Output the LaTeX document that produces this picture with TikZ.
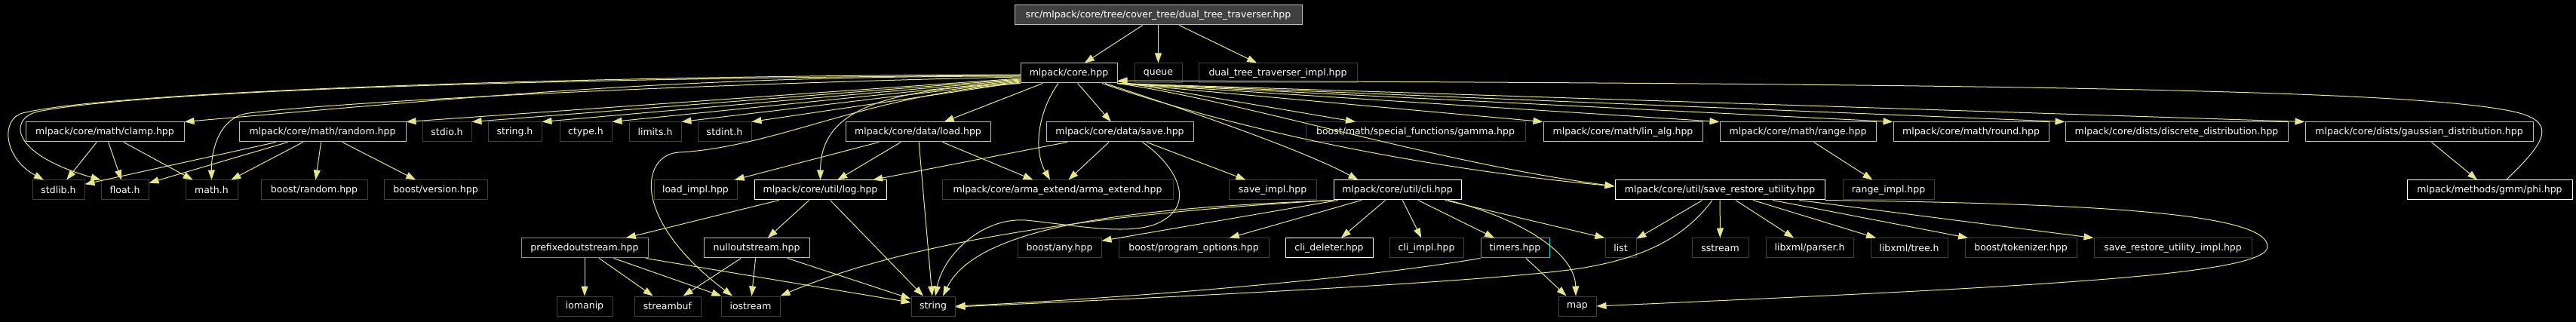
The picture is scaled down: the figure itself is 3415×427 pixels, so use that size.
\documentclass[tikz,border=0pt]{standalone}
\usepackage{fontspec}
\setmainfont{DejaVu Sans}
\usetikzlibrary{arrows.meta}

\definecolor{edgeyellow}{RGB}{230,230,143}
\definecolor{rootgray}{RGB}{64,64,64}
\definecolor{leafgray}{RGB}{64,64,64}
\definecolor{docgray}{RGB}{191,191,191}
\definecolor{cutcyan}{RGB}{0,200,200}

\begin{document}
\begin{tikzpicture}[
    x=1pt, y=-1pt,
    file/.style={rectangle, draw=leafgray, fill=black, text=white, line width=1pt, minimum height=26pt, inner sep=0pt, font=\fontsize{12.5}{15}\selectfont},
    docfile/.style={file, draw=docgray},
    linkfile/.style={file, draw=white},
    cutfile/.style={file, draw=cutcyan},
    rootfile/.style={file, draw=docgray, fill=rootgray},
    incl/.style={draw=edgeyellow, line width=1pt, -{Triangle[length=13pt, width=9pt]}}
]

% Background and frame
\path[use as bounding box, fill=black] (0,0) rectangle (3415,427);

% Root file
\node[rootfile, minimum width=381pt] (root) at (1535.5,20) {src/mlpack/core/tree/cover\_tree/dual\_tree\_traverser.hpp};

% Direct includes
\node[docfile, minimum width=128pt] (core) at (1417,97) {mlpack/core.hpp};
\node[file, minimum width=63pt] (queue) at (1535.5,97) {queue};
\node[file, minimum width=210pt] (dtimpl) at (1694,97) {dual\_tree\_traverser\_impl.hpp};

% Headers of mlpack/core.hpp
\node[docfile, minimum width=210pt] (clamp) at (139,175) {mlpack/core/math/clamp.hpp};
\node[docfile, minimum width=221pt] (random) at (427.5,175) {mlpack/core/math/random.hpp};
\node[file, minimum width=65pt] (stdio) at (592.5,175) {stdio.h};
\node[file, minimum width=71pt] (strh) at (682.5,175) {string.h};
\node[file, minimum width=69pt] (ctype) at (776.5,175) {ctype.h};
\node[file, minimum width=69pt] (limits) at (868.5,175) {limits.h};
\node[file, minimum width=71pt] (stdint) at (960.5,175) {stdint.h};
\node[docfile, minimum width=192pt] (load) at (1217,175) {mlpack/core/data/load.hpp};
\node[docfile, minimum width=195pt] (save) at (1484.5,175) {mlpack/core/data/save.hpp};
\node[file, minimum width=291pt] (gamma) at (1876.5,175) {boost/math/special\_functions/gamma.hpp};
\node[docfile, minimum width=211pt] (linalg) at (2151.5,175) {mlpack/core/math/lin\_alg.hpp};
\node[docfile, minimum width=207pt] (range) at (2383.5,175) {mlpack/core/math/range.hpp};
\node[docfile, minimum width=206pt] (round) at (2613,175) {mlpack/core/math/round.hpp};
\node[docfile, minimum width=295pt] (discrete) at (2885.5,175) {mlpack/core/dists/discrete\_distribution.hpp};
\node[docfile, minimum width=302pt] (gaussian) at (3207,175) {mlpack/core/dists/gaussian\_distribution.hpp};

% Third row
\node[file, minimum width=69pt] (stdlib) at (77.5,252) {stdlib.h};
\node[file, minimum width=63pt] (float) at (165.5,252) {float.h};
\node[file, minimum width=69pt] (math) at (280.5,252) {math.h};
\node[file, minimum width=141pt] (brandom) at (416.5,252) {boost/random.hpp};
\node[file, minimum width=137pt] (bversion) at (577.5,252) {boost/version.hpp};
\node[file, minimum width=110pt] (loadimpl) at (922,252) {load\_impl.hpp};
\node[linkfile, minimum width=175pt] (log) at (1087.5,252) {mlpack/core/util/log.hpp};
\node[file, minimum width=306pt] (arma) at (1402,252) {mlpack/core/arma\_extend/arma\_extend.hpp};
\node[file, minimum width=116pt] (saveimpl) at (1687,252) {save\_impl.hpp};
\node[linkfile, minimum width=169pt] (cli) at (1852.5,252) {mlpack/core/util/cli.hpp};
\node[linkfile, minimum width=278pt] (sru) at (2280,252) {mlpack/core/util/save\_restore\_utility.hpp};
\node[file, minimum width=121pt] (rangeimpl) at (2503.5,252) {range\_impl.hpp};
\node[linkfile, minimum width=219pt] (phi) at (3300.5,252) {mlpack/methods/gmm/phi.hpp};

% Fourth row
\node[cutfile, minimum width=168pt] (prefixed) at (775,329) {prefixedoutstream.hpp};
\node[docfile, minimum width=140pt] (nullout) at (1003,329) {nulloutstream.hpp};
\node[file, minimum width=111pt] (bany) at (1404.5,329) {boost/any.hpp};
\node[file, minimum width=199pt] (progopt) at (1582.5,329) {boost/program\_options.hpp};
\node[linkfile, minimum width=116pt] (clidel) at (1762,329) {cli\_deleter.hpp};
\node[file, minimum width=98pt] (cliimpl) at (1891,329) {cli\_impl.hpp};
\node[cutfile, minimum width=91pt] (timers) at (2008.5,329) {timers.hpp};
\node[file, minimum width=41pt] (list) at (2148.5,329) {list};
\node[file, minimum width=75pt] (sstream) at (2280.5,329) {sstream};
\node[file, minimum width=116pt] (parser) at (2399,329) {libxml/parser.h};
\node[file, minimum width=102pt] (tree) at (2531,329) {libxml/tree.h};
\node[file, minimum width=148pt] (tokenizer) at (2679,329) {boost/tokenizer.hpp};
\node[file, minimum width=209pt] (sruimpl) at (2880.5,329) {save\_restore\_utility\_impl.hpp};

% Bottom row
\node[file, minimum width=74pt] (iomanip) at (775,406) {iomanip};
\node[file, minimum width=88pt] (streambuf) at (885,406) {streambuf};
\node[file, minimum width=78pt] (iostream) at (995,406) {iostream};
\node[file, minimum width=58pt] (string) at (1237,406) {string};
\node[file, minimum width=50pt] (map) at (2091,406) {map};

% Root includes
\draw[incl] (root) -- (core);
\draw[incl] (root) -- (queue);
\draw[incl] (root) -- (dtimpl);

% mlpack/core.hpp - left fan
\draw[incl] ([yshift=-2pt]core.west) .. controls (800,100) and (150,120) .. (30,150) .. controls (0,158) and (5,210) .. ([xshift=-19.5pt]stdlib.north);
\draw[incl] ([yshift=-3pt]core.west) .. controls (800,103) and (200,118) .. (50,148) .. controls (10,158) and (15,205) .. (float.north west);
\draw[incl] ([yshift=-4pt]core.west) .. controls (919,101) and (676,124) .. (clamp.north east);
\draw[incl] ([yshift=-5pt]core.west) .. controls (900,112) and (450,135) .. (330,150) .. controls (290,155) and (280,200) .. (math.north);
\draw[incl] ([yshift=-7pt]core.west) -- (random.north east);
\draw[incl] ([yshift=-8pt]core.west) -- (stdio.north east);
\draw[incl] ([yshift=-9pt]core.west) -- (strh.north east);
\draw[incl] ([yshift=-10pt]core.west) -- (ctype.north east);
\draw[incl] ([yshift=-11pt]core.west) -- (limits.north east);
\draw[incl] ([yshift=-12pt]core.west) -- (stdint.north east);
\draw[incl] (core.south west) .. controls (1160,118) and (1088,150) .. (log.north);
\draw[incl] (core.south west) .. controls (1150,125) and (1030,195) .. (900,202) .. controls (850,205) and (835,290) .. ([xshift=-24pt]iostream.north);
\draw[incl] (core) -- (load);
\draw[incl] ([xshift=-14pt]core.south) .. controls (1375,150) and (1370,200) .. ([xshift=-10pt]arma.north);
\draw[incl] (core) -- (save);

% mlpack/core.hpp - right fan
\draw[incl] (core) -- (gamma);
\draw[incl] (core.south east) -- (linalg.north west);
\draw[incl] (core.south east) -- (range.north west);
\draw[incl] (core.south east) -- (round.north west);
\draw[incl] (core.south east) -- (discrete.north west);
\draw[incl] (core.south east) -- (gaussian.north west);
\draw[incl] ([xshift=48pt]core.south) .. controls (1540,135) and (1720,195) .. ([xshift=-52pt]cli.north);
\draw[incl] ([xshift=44pt]core.south) .. controls (1560,145) and (1800,215) .. ([yshift=5pt]sru.west);
\draw[incl] (core.south east) .. controls (1650,135) and (1900,215) .. ([yshift=5pt]sru.west);

% Back edge from phi.hpp
\draw[incl] ([xshift=22pt]phi.north) .. controls (3365,197) and (3395,165) .. (3340,150) .. controls (3230,120) and (2700,111) .. ([yshift=-10pt]core.east);
\draw[incl] (gaussian) -- (phi);
\draw[incl] (range) -- (rangeimpl);

% math headers
\draw[incl] (clamp) -- (stdlib);
\draw[incl] (clamp) -- (float);
\draw[incl] (clamp) -- (math);
\draw[incl] (random) -- (stdlib);
\draw[incl] (random) -- (float);
\draw[incl] (random) -- (math);
\draw[incl] (random) -- (brandom);
\draw[incl] (random) -- (bversion);

% data load / save
\draw[incl] (load) -- (loadimpl);
\draw[incl] (load) -- (log);
\draw[incl] (load) -- (string);
\draw[incl] (load) -- (arma);
\draw[incl] (save) -- (log);
\draw[incl] (save) -- (arma);
\draw[incl] (save) -- (saveimpl);
\draw[incl] ([xshift=30pt]save.south) .. controls (1560,220) and (1590,275) .. (1530,298) .. controls (1490,312) and (1420,298) .. (1360,292) .. controls (1300,288) and (1250,340) .. ([xshift=3pt]string.north);

% log.hpp and streams
\draw[incl] (log) -- (prefixed);
\draw[incl] (log) -- (nullout);
\draw[incl] (log) -- (string);
\draw[incl] (prefixed) -- (iomanip);
\draw[incl] (prefixed) -- (streambuf);
\draw[incl] (prefixed) -- (iostream);
\draw[incl] (prefixed) -- (string);
\draw[incl] (nullout) -- (streambuf);
\draw[incl] (nullout) -- (iostream);
\draw[incl] (nullout) -- (string);

% cli.hpp
\draw[incl] (cli) -- (bany);
\draw[incl] (cli) -- (progopt);
\draw[incl] (cli) -- (clidel);
\draw[incl] (cli) -- (cliimpl);
\draw[incl] (cli) -- (timers);
\draw[incl] ([xshift=63pt]cli.south) -- (list.north west);
\draw[incl] ([xshift=67pt]cli.south) .. controls (2000,285) and (2088,330) .. ([xshift=-2pt]map.north);
\draw[incl] (cli.south west) .. controls (1550,275) and (1300,290) .. ([xshift=13pt]string.north);
\draw[incl] (cli.south west) .. controls (1600,275) and (1250,300) .. (iostream.north east);
\draw[incl] (timers) -- (map);
\draw[incl] (timers.south west) .. controls (1800,370) and (1500,395) .. (string.east);

% save_restore_utility.hpp
\draw[incl] (sru) -- (list);
\draw[incl] (sru) -- (sstream);
\draw[incl] (sru) -- (parser);
\draw[incl] (sru) -- (tree);
\draw[incl] (sru) -- (tokenizer);
\draw[incl] (sru) -- (sruimpl);
\draw[incl] ([xshift=-10pt]sru.south) .. controls (2230,320) and (2170,343) .. (2100,355) .. controls (2000,372) and (1600,392) .. ([yshift=-1pt]string.east);
\draw[incl] (sru.south east) .. controls (2750,270) and (3006,280) .. (3006,327) .. controls (3006,365) and (2700,380) .. (map.east);

\end{tikzpicture}
\end{document}
